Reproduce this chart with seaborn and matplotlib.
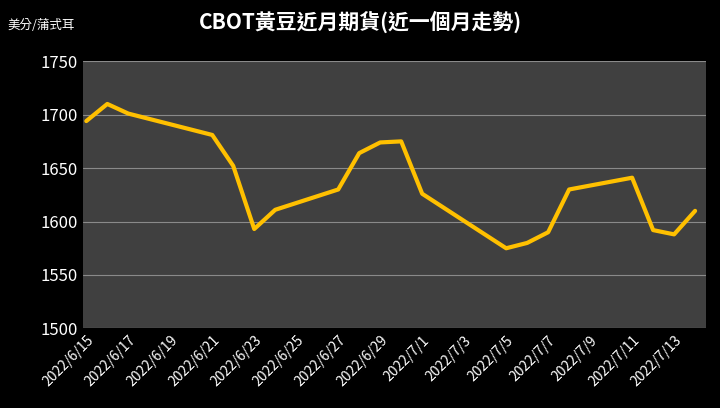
import matplotlib
matplotlib.use("Agg")
import matplotlib.pyplot as plt
import matplotlib.dates as mdates
import seaborn as sns
import pandas as pd

dates = ["2022-06-15","2022-06-16","2022-06-17","2022-06-21","2022-06-22","2022-06-23","2022-06-24",
         "2022-06-27","2022-06-28","2022-06-29","2022-06-30","2022-07-01","2022-07-05","2022-07-06",
         "2022-07-07","2022-07-08","2022-07-11","2022-07-12","2022-07-13","2022-07-14"]
prices = [1694,1710,1701,1681,1652,1593,1611,1630,1664,1674,1675,1626,1575,1580,1590,1630,1641,1592,1588,1610]
df = pd.DataFrame({"date": pd.to_datetime(dates), "price": prices})

sns.set_style("dark")
plt.rcParams['font.family'] = ['Noto Sans CJK TC', 'DejaVu Sans']
fig, ax = plt.subplots(figsize=(7.2, 4.08), dpi=100)
fig.patch.set_facecolor("black")
ax.set_facecolor("#404040")
sns.lineplot(data=df, x="date", y="price", color="#FFC000", linewidth=3, ax=ax)
ax.set_ylim(1500, 1750)
ax.set_yticks(range(1500, 1751, 50))
ax.set_xlim(pd.Timestamp("2022-06-14 20:00"), pd.Timestamp("2022-07-14 12:00"))
ticks = pd.date_range("2022-06-15", "2022-07-13", freq="2D")
ax.set_xticks(ticks)
ax.set_xticklabels([f"{d.year}/{d.month}/{d.day}" for d in ticks], rotation=45, ha="right", rotation_mode="anchor")
ax.grid(axis="y", color="#8a8a8a", linewidth=0.8)
ax.grid(axis="x", visible=False)
ax.tick_params(colors="white", labelsize=10, length=0)
for lab in ax.get_yticklabels():
    lab.set_fontsize(12)
for s in ax.spines.values():
    s.set_visible(False)
ax.set_xlabel(""); ax.set_ylabel("")
fig.text(0.5, 0.93, "CBOT黃豆近月期貨(近一個月走勢)", color="white", fontsize=15, ha="center", fontweight="bold")
fig.text(0.01, 0.93, "美分/蒲式耳", color="white", fontsize=9, ha="left")
fig.subplots_adjust(left=0.115, right=0.98, top=0.85, bottom=0.195)
fig.savefig("out.png", facecolor="black")
